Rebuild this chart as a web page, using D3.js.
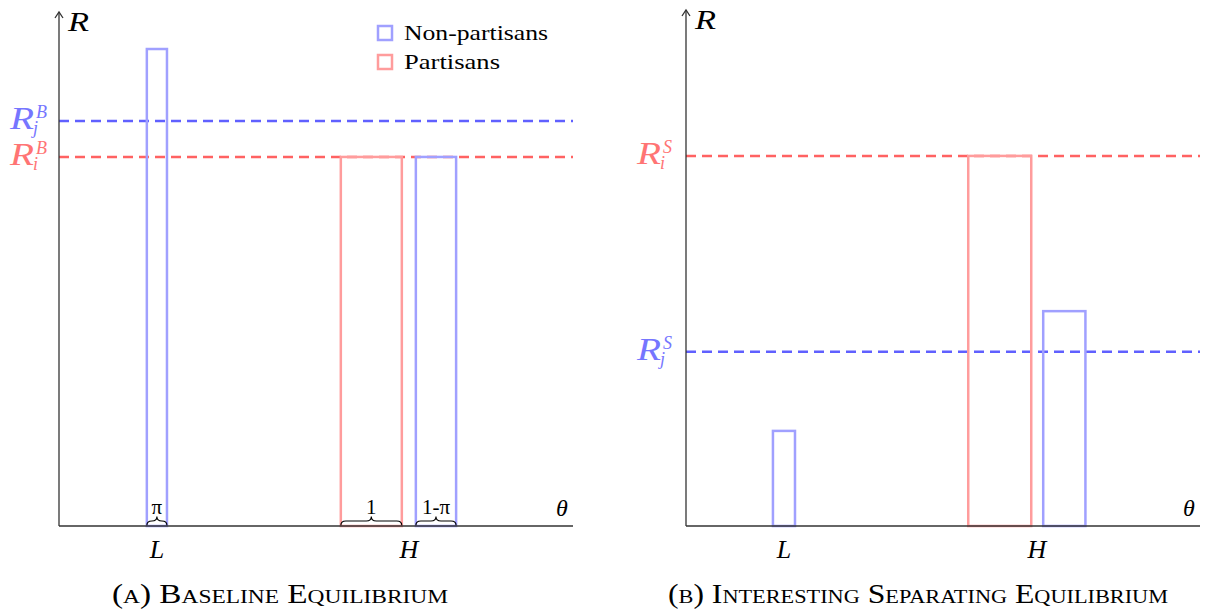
<!DOCTYPE html>
<html>
<head>
<meta charset="utf-8">
<script src="https://cdn.jsdelivr.net/npm/d3@7"></script>
<style>
  body { margin: 0; background: #fff; }
  text { font-family: "Liberation Serif", "DejaVu Serif", serif; }
</style>
</head>
<body>
<svg id="graph"></svg>
<script>
// --- data (theta in bar-width units, R in axis units 0..10) ---
var captions = ["(a) Baseline Equilibrium", "(b) Interesting Separating Equilibrium"];
var captionWidths = [336, 500];
var barsA = [
    {group: "non", start: 1.44, width: 0.33, value: 9.28, brace: "π"},
    {group: "par", start: 4.62, width: 1.0, value: 7.18, brace: "1"},
    {group: "non", start: 5.85, width: 0.66, value: 7.18, brace: "1-π"}
];
var barsB = [
    {group: "non", start: 1.38, width: 0.35, value: 1.85},
    {group: "par", start: 4.48, width: 1.0, value: 7.2},
    {group: "non", start: 5.67, width: 0.67, value: 4.18}
];
var ticksA = [{label: "L", at: 1.605}, {label: "H", at: 5.735}];
var ticksB = [{label: "L", at: 1.555}, {label: "H", at: 5.57}];
var refA = [{group: "non", value: 7.88, sub: "j", sup: "B"}, {group: "par", value: 7.18, sub: "i", sup: "B"}];
var refB = [{group: "par", value: 7.2, sub: "i", sup: "S"}, {group: "non", value: 3.39, sub: "j", sup: "S"}];
var legendItems = [{group: "non", label: "Non-partisans", w: 144}, {group: "par", label: "Partisans", w: 96}];

var width = 1207, height = 611;
var barColor = {non: "#a0a0ff", par: "#ff9c9c"};
var lineColor = {non: "#6060ff", par: "#ff6262"};
var labelColor = {non: "#7676ff", par: "#ff7474"};

var svg = d3.select("#graph")
    .attr("width", width)
    .attr("height", height);

var panels = [
    {left: 59, right: 573, top: 12, bottom: 526, bars: barsA, ticks: ticksA, refs: refA, caption: 0, cx: 280, unit: 61},
    {left: 686, right: 1200, top: 10, bottom: 526, bars: barsB, ticks: ticksB, refs: refB, caption: 1, cx: 918, unit: 63}
];

function brace(x1, x2, y, h) {
    var mid = (x1 + x2) / 2, r = Math.min(5, (x2 - x1) / 4);
    return "M" + x1 + "," + y +
        " Q" + x1 + "," + (y - h / 2) + " " + (x1 + r) + "," + (y - h / 2) +
        " L" + (mid - r) + "," + (y - h / 2) +
        " Q" + mid + "," + (y - h / 2) + " " + mid + "," + (y - h) +
        " Q" + mid + "," + (y - h / 2) + " " + (mid + r) + "," + (y - h / 2) +
        " L" + (x2 - r) + "," + (y - h / 2) +
        " Q" + x2 + "," + (y - h / 2) + " " + x2 + "," + y;
}

function rLabel(g, axisX, y, sub, sup, color) {
    var t = g.append("g").attr("fill", color).attr("font-style", "italic");
    t.append("text").attr("x", axisX - 49).attr("y", y + 8)
        .attr("font-size", 31)
        .attr("textLength", 24).attr("lengthAdjust", "spacingAndGlyphs")
        .text("R");
    t.append("text").attr("x", axisX - 23).attr("y", y - 3)
        .attr("font-size", 18).text(sup);
    t.append("text").attr("x", axisX - 26).attr("y", y + 13)
        .attr("font-size", 18).text(sub);
}

panels.forEach(function (p) {
    var x = d3.scaleLinear()
        .domain([0, (p.right - p.left) / p.unit])
        .range([p.left, p.right]);
    var y = d3.scaleLinear()
        .domain([0, 10])
        .range([p.bottom, p.bottom - 514]);
    var g = svg.append("g");

    // reference lines
    g.selectAll("line.ref")
        .data(p.refs)
        .enter().append("line")
        .attr("x1", p.left).attr("x2", p.right)
        .attr("y1", function (d) { return y(d.value); })
        .attr("y2", function (d) { return y(d.value); })
        .attr("stroke", function (d) { return lineColor[d.group]; })
        .attr("stroke-width", 2.5)
        .attr("stroke-dasharray", "10,6");
    p.refs.forEach(function (d) {
        rLabel(g, p.left, y(d.value), d.sub, d.sup, labelColor[d.group]);
    });

    // bars
    g.selectAll("rect.bar")
        .data(p.bars)
        .enter().append("rect")
        .attr("x", function (d) { return x(d.start); })
        .attr("y", function (d) { return y(d.value); })
        .attr("width", function (d) { return x(d.start + d.width) - x(d.start); })
        .attr("height", function (d) { return y(0) - y(d.value); })
        .attr("fill", "none")
        .attr("stroke", function (d) { return barColor[d.group]; })
        .attr("stroke-width", 2.5);

    // braces
    p.bars.filter(function (d) { return d.brace; }).forEach(function (d) {
        var x1 = x(d.start), x2 = x(d.start + d.width);
        g.append("path").attr("d", brace(x1, x2, p.bottom - 0.5, 9))
            .attr("fill", "none").attr("stroke", "#000").attr("stroke-width", 1.1);
        g.append("text").attr("x", (x1 + x2) / 2).attr("y", p.bottom - 12)
            .attr("text-anchor", "middle").attr("font-size", 21).text(d.brace);
    });

    // axes
    g.append("line").attr("x1", p.left).attr("x2", p.right)
        .attr("y1", p.bottom).attr("y2", p.bottom)
        .attr("stroke", "#333").attr("stroke-width", 1.3);
    g.append("line").attr("x1", p.left).attr("x2", p.left)
        .attr("y1", p.bottom).attr("y2", p.top)
        .attr("stroke", "#333").attr("stroke-width", 1.3);
    g.append("path")
        .attr("d", "M" + (p.left - 4) + "," + (p.top + 6) + " L" + p.left + "," + p.top + " L" + (p.left + 4) + "," + (p.top + 6))
        .attr("fill", "none").attr("stroke", "#333").attr("stroke-width", 1.3);
    g.append("text").attr("x", p.left + 9).attr("y", p.top + 19)
        .attr("font-size", 27).attr("font-style", "italic")
        .attr("textLength", 21).attr("lengthAdjust", "spacingAndGlyphs")
        .text("R");
    g.append("text").attr("x", p.right - 17).attr("y", p.bottom - 10)
        .attr("font-size", 24).attr("font-style", "italic").text("θ");

    // tick labels
    g.selectAll("text.tick")
        .data(p.ticks)
        .enter().append("text")
        .attr("x", function (d) { return x(d.at); })
        .attr("y", p.bottom + 32)
        .attr("text-anchor", "middle")
        .attr("font-size", 26).attr("font-style", "italic")
        .text(function (d) { return d.label; });

    // caption
    g.append("text").attr("x", p.cx - captionWidths[p.caption] / 2).attr("y", 603)
        .attr("font-size", 27).attr("font-variant", "small-caps")
        .attr("textLength", captionWidths[p.caption])
        .attr("lengthAdjust", "spacingAndGlyphs")
        .text(captions[p.caption]);
});

// legend
var legend = svg.append("g").attr("transform", "translate(378,26)");
var li = legend.selectAll("g")
    .data(legendItems)
    .enter().append("g")
    .attr("transform", function (d, i) { return "translate(0," + i * 29 + ")"; });
li.append("rect").attr("width", 14).attr("height", 14)
    .attr("fill", "none").attr("stroke-width", 2.5)
    .attr("stroke", function (d) { return barColor[d.group]; });
li.append("text").attr("x", 26).attr("y", 14)
    .attr("font-size", 22)
    .attr("textLength", function (d) { return d.w; })
    .attr("lengthAdjust", "spacingAndGlyphs")
    .text(function (d) { return d.label; });
</script>
</body>
</html>
